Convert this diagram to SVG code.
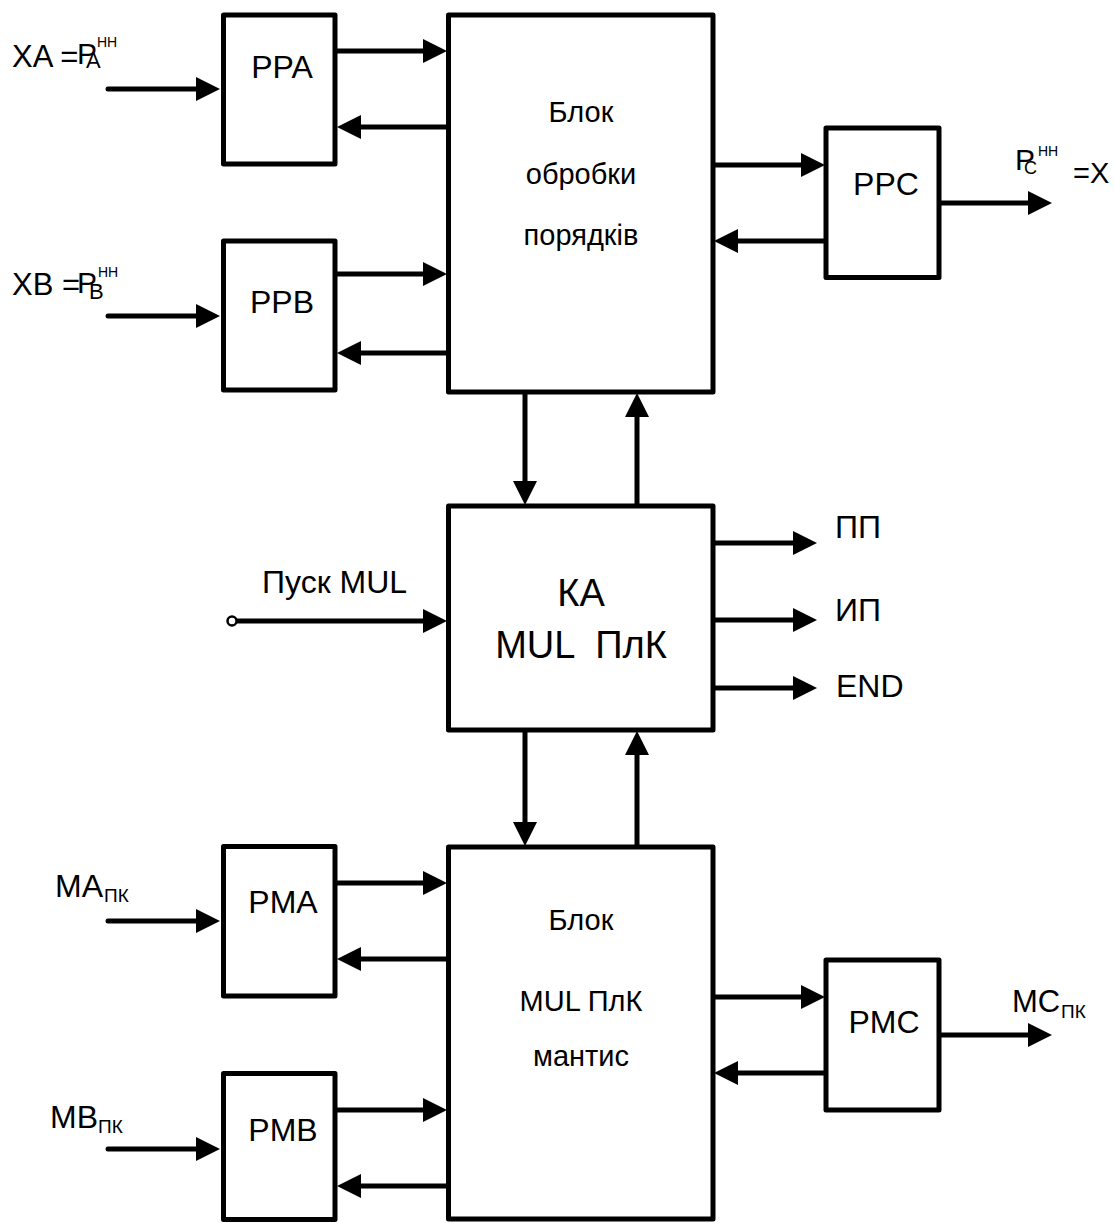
<svg xmlns="http://www.w3.org/2000/svg" width="1114" height="1223" viewBox="0 0 1114 1223">
<defs>
<style>
.box{fill:#fff;stroke:#000;stroke-width:5;stroke-linejoin:round}
.ln{fill:none;stroke:#000;stroke-width:5;stroke-linecap:butt}
.in{fill:none;stroke:#000;stroke-width:5;stroke-linecap:round}
text{font-family:"Liberation Sans",Arial,sans-serif;fill:#000}
.t{font-size:29px;text-anchor:middle}
.b{font-size:32px;text-anchor:middle}
.k{font-size:38px;text-anchor:middle}
.l{font-size:31px}
</style>
<marker id="ah" markerUnits="userSpaceOnUse" markerWidth="26" markerHeight="26" refX="5" refY="12" orient="auto">
<path d="M0,0 L24,12 L0,24 Z" fill="#000"/>
</marker>
</defs>
<rect width="1114" height="1223" fill="#fff"/>

<g id="connectors">
<path class="in" d="M108,89 H201" marker-end="url(#ah)"/>
<path class="in" d="M108,316 H201" marker-end="url(#ah)"/>
<path class="in" d="M108,921 H201" marker-end="url(#ah)"/>
<path class="in" d="M108,1149 H201" marker-end="url(#ah)"/>
<path class="ln" d="M335,51 H428" marker-end="url(#ah)"/>
<path class="ln" d="M448,127 H356" marker-end="url(#ah)"/>
<path class="ln" d="M335,274 H428" marker-end="url(#ah)"/>
<path class="ln" d="M448,353 H356" marker-end="url(#ah)"/>
<path class="ln" d="M713,165 H806" marker-end="url(#ah)"/>
<path class="ln" d="M826,241 H733" marker-end="url(#ah)"/>
<path class="ln" d="M939,203 H1033" marker-end="url(#ah)"/>
<path class="ln" d="M525,392 V486" marker-end="url(#ah)"/>
<path class="ln" d="M637,506 V412" marker-end="url(#ah)"/>
<path class="ln" d="M525,730 V827" marker-end="url(#ah)"/>
<path class="ln" d="M637,847 V750" marker-end="url(#ah)"/>
<path class="ln" d="M236,621 H428" marker-end="url(#ah)"/>
<circle cx="232" cy="621" r="4.5" fill="#fff" stroke="#000" stroke-width="2.5"/>
<path class="ln" d="M713,543 H798" marker-end="url(#ah)"/>
<path class="ln" d="M713,620 H798" marker-end="url(#ah)"/>
<path class="ln" d="M713,688 H798" marker-end="url(#ah)"/>
<path class="ln" d="M335,883 H428" marker-end="url(#ah)"/>
<path class="ln" d="M448,959 H356" marker-end="url(#ah)"/>
<path class="ln" d="M335,1110 H428" marker-end="url(#ah)"/>
<path class="ln" d="M448,1186 H356" marker-end="url(#ah)"/>
<path class="ln" d="M713,997 H806" marker-end="url(#ah)"/>
<path class="ln" d="M826,1073 H733" marker-end="url(#ah)"/>
<path class="ln" d="M939,1035 H1033" marker-end="url(#ah)"/>
</g>

<g id="PPA">
<rect class="box" x="223.5" y="15" width="111.5" height="149"/>
<text class="b" x="282" y="78">PPA</text>
</g>
<g id="PPB">
<rect class="box" x="223.5" y="241" width="111.5" height="149"/>
<text class="b" x="282" y="313">PPB</text>
</g>
<g id="block-exp">
<rect class="box" x="448.5" y="15" width="264.5" height="377"/>
<text class="t" x="581" y="122">Блок</text>
<text class="t" x="581" y="184">обробки</text>
<text class="t" x="581" y="245">порядків</text>
</g>
<g id="PPC">
<rect class="box" x="826" y="128" width="113" height="149.5"/>
<text class="b" x="886" y="195">PPC</text>
</g>
<g id="KA">
<rect class="box" x="448.5" y="506" width="264.5" height="224"/>
<text class="k" x="581" y="606">КА</text>
<text class="k" x="581" y="658" xml:space="preserve">MUL  ПлК</text>
</g>
<g id="block-mant">
<rect class="box" x="448.5" y="847" width="264.5" height="372"/>
<text class="t" x="581" y="930">Блок</text>
<text class="t" x="581" y="1011">MUL ПлК</text>
<text class="t" x="581" y="1066">мантис</text>
</g>
<g id="PMA">
<rect class="box" x="223.5" y="846.5" width="111.5" height="149.5"/>
<text class="b" x="283" y="913">PMA</text>
</g>
<g id="PMB">
<rect class="box" x="223.5" y="1073.5" width="111.5" height="146"/>
<text class="b" x="283" y="1141">PMB</text>
</g>
<g id="PMC">
<rect class="box" x="826" y="960" width="113" height="150"/>
<text class="b" x="884" y="1033">PMC</text>
</g>

<g id="labels">
<text class="l" x="12" y="67" xml:space="preserve">XA =</text>
<text x="77" y="64" font-size="30">P</text>
<text x="86" y="68" font-size="22">A</text>
<text x="97" y="47" font-size="14">НН</text>

<text class="l" x="12" y="295" xml:space="preserve">XB =</text>
<text x="77" y="293" font-size="30">P</text>
<text x="89" y="299" font-size="22">B</text>
<text x="98" y="277" font-size="14">НН</text>

<text x="1015" y="170" font-size="30">P</text>
<text x="1024" y="174" font-size="18">C</text>
<text x="1038" y="156" font-size="14">НН</text>
<text x="1073" y="183" font-size="29">=X</text>

<text x="262" y="593" font-size="32">Пуск MUL</text>
<text x="835" y="538" font-size="32">ПП</text>
<text x="835" y="621" font-size="32">ИП</text>
<text x="836" y="697" font-size="32">END</text>

<text x="55" y="897" font-size="32">MA</text>
<text x="104" y="902" font-size="19">ПК</text>
<text x="50" y="1128" font-size="32">MB</text>
<text x="98" y="1133" font-size="19">ПК</text>
<text x="1012" y="1012" font-size="31">MC</text>
<text x="1061" y="1018" font-size="19">ПК</text>
</g>
</svg>
